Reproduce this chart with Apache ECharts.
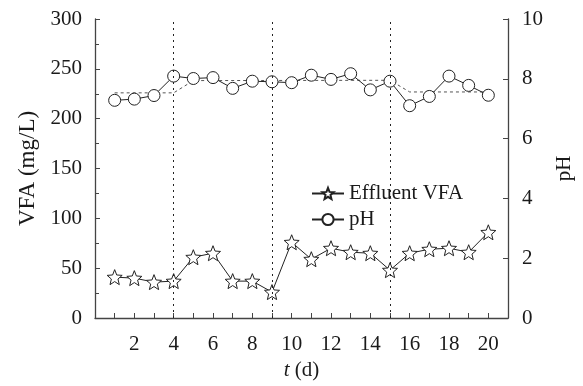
<!DOCTYPE html>
<html>
<head>
<meta charset="utf-8">
<script src="https://cdn.jsdelivr.net/npm/echarts@6/dist/echarts.min.js"></script>
<style>
  html, body { margin: 0; padding: 0; background: #fff; }
  #chart { width: 583px; height: 386px; }
</style>
</head>
<body>
<div id="chart"></div>
<script>
var days = [1, 2, 3, 4, 5, 6, 7, 8, 9, 10, 11, 12, 13, 14, 15, 16, 17, 18, 19, 20];
var vfa = [41, 40, 36, 37, 61, 65, 37, 37, 26, 76, 59, 70, 66, 65, 48, 65, 69, 70, 66, 86];
var ph = [7.28, 7.32, 7.44, 8.09, 8.01, 8.04, 7.68, 7.92, 7.90, 7.87, 8.12, 7.98, 8.17, 7.63, 7.92, 7.10, 7.41, 8.09, 7.78, 7.45];
// stage mean of pH (dotted line)
var trendDays = [1, 4, 5, 15, 16, 20];
var trendPh = [7.53, 7.53, 7.94, 7.95, 7.56, 7.56];
// stage boundaries
var stageDays = [4, 9, 15];

var font = 'Liberation Serif';
var starPath = 'path://M50 0 L62.93 32.2 L97.55 34.55 L70.92 56.8 L79.39 90.45 L50 72 L20.61 90.45 L29.08 56.8 L2.45 34.55 L37.07 32.2 Z';

function pairs(xs, ys) {
    var out = [];
    for (var i = 0; i < xs.length; i++) {
        out.push([xs[i], ys[i]]);
    }
    return out;
}

var myEcharts = echarts.init(document.querySelector('#chart'));
var axisLine = { lineStyle: { color: '#444', width: 1.3 } };
var labelStyle = { fontFamily: font, fontSize: 21, color: '#1a1a1a' };

option = {
    animation: false,
    backgroundColor: '#fff',
    grid: { left: 95, right: 74, top: 19, bottom: 65 },
    legend: {
        orient: 'vertical',
        left: 306,
        top: 178,
        itemWidth: 32,
        itemHeight: 14,
        itemGap: 5,
        textStyle: { fontFamily: font, fontSize: 21, color: '#1a1a1a' },
        data: ['Effluent VFA', 'pH']
    },
    xAxis: {
        type: 'value',
        min: 0,
        max: 21,
        interval: 1,
        name: '{i|t} (d)',
        nameLocation: 'middle',
        nameGap: 42,
        nameTextStyle: {
            fontFamily: font, fontSize: 21, color: '#1a1a1a',
            rich: { i: { fontFamily: font, fontSize: 21, fontStyle: 'italic', color: '#1a1a1a' } }
        },
        axisLine: axisLine,
        axisTick: { inside: true, length: 5, lineStyle: { color: '#444' } },
        axisLabel: Object.assign({
            margin: 16,
            formatter: function (v) { return (v > 0 && v < 21 && v % 2 === 0) ? v : ''; }
        }, labelStyle),
        splitLine: { show: false }
    },
    yAxis: [
        {
            type: 'value',
            min: 0,
            max: 300,
            interval: 50,
            name: 'VFA (mg/L)',
            nameLocation: 'middle',
            nameRotate: 90,
            nameGap: 55,
            nameTextStyle: { fontFamily: font, fontSize: 23, color: '#1a1a1a', padding: [0, 0, 0, 0] },
            axisLine: Object.assign({ show: true }, axisLine),
            axisTick: { inside: true, length: 5, lineStyle: { color: '#444' } },
            minorTick: { show: true, splitNumber: 2, length: 4, lineStyle: { color: '#444' } },
            axisLabel: Object.assign({ margin: 13 }, labelStyle),
            splitLine: { show: false }
        },
        {
            type: 'value',
            min: 0,
            max: 10,
            interval: 2,
            position: 'right',
            name: 'pH',
            nameLocation: 'middle',
            nameRotate: 90,
            nameGap: 46,
            nameTextStyle: labelStyle,
            axisLine: Object.assign({ show: true }, axisLine),
            axisTick: { inside: true, length: 5, lineStyle: { color: '#444' } },
            axisLabel: Object.assign({ margin: 14 }, labelStyle),
            splitLine: { show: false }
        }
    ],
    series: [
        {
            name: 'pH trend',
            type: 'line',
            yAxisIndex: 1,
            data: pairs(trendDays, trendPh),
            showSymbol: false,
            symbol: 'none',
            lineStyle: { color: '#555', width: 1, type: [3, 3] },
            silent: true,
            z: 1
        },
        {
            name: 'Effluent VFA',
            type: 'line',
            yAxisIndex: 0,
            data: pairs(days, vfa),
            symbol: starPath,
            symbolSize: 15,
            itemStyle: { color: '#fff', borderColor: '#222', borderWidth: 1 },
            lineStyle: { color: '#222', width: 1 },
            markLine: {
                silent: true,
                symbol: 'none',
                label: { show: false },
                lineStyle: { color: '#222', width: 1, type: [2, 4] },
                data: stageDays.map(function (d) { return { xAxis: d }; })
            },
            z: 3
        },
        {
            name: 'pH',
            type: 'line',
            yAxisIndex: 1,
            data: pairs(days, ph),
            symbol: 'circle',
            symbolSize: 12,
            itemStyle: { color: '#fff', borderColor: '#222', borderWidth: 1 },
            lineStyle: { color: '#222', width: 1 },
            z: 3
        }
    ]
};
//关联echarts实例与配置项
myEcharts.setOption(option);
</script>
</body>
</html>
